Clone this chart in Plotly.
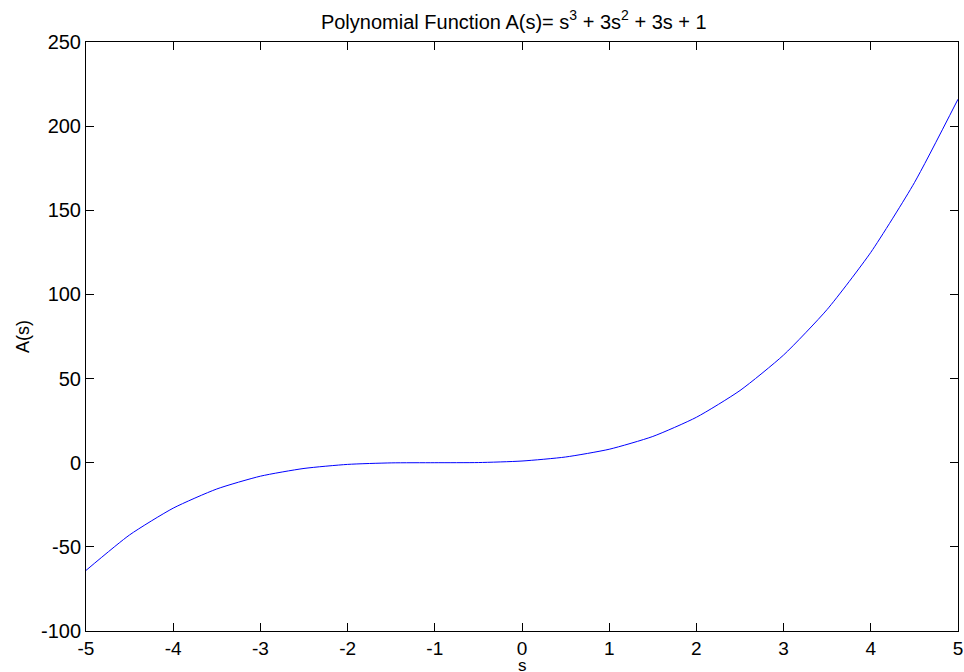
import plotly.graph_objects as go

s_values = [-5, -4.5, -4, -3.5, -3, -2.5, -2, -1.5, -1, -0.5, 0, 0.5, 1, 1.5, 2, 2.5, 3, 3.5, 4, 4.5, 5]
a_values = [-64, -42.9, -27, -15.6, -8, -3.4, -1, -0.1, 0, 0.1, 1, 3.4, 8, 15.6, 27, 42.9, 64, 91.1, 125, 166.4, 216]
x_ticks = [-5, -4, -3, -2, -1, 0, 1, 2, 3, 4, 5]
y_ticks = [-100, -50, 0, 50, 100, 150, 200, 250]

font_family = "Liberation Sans, Arial, sans-serif"
fsize = 20

fig = go.Figure()
fig.add_trace(go.Scatter(x=s_values, y=a_values, mode="lines",
                         line=dict(color="#0000ff", width=1, shape="spline", smoothing=0.6),
                         showlegend=False))

axis_common = dict(showline=True, linecolor="black", linewidth=1, mirror="ticks",
                   ticks="inside", ticklen=8, tickcolor="black", showgrid=False,
                   zeroline=False, automargin=False)

fig.update_layout(
    width=964, height=672,
    margin=dict(l=86, r=6, t=42, b=41),
    paper_bgcolor="white", plot_bgcolor="white",
    title=dict(text="Polynomial Function A(s)= s<sup>3</sup> + 3s<sup>2</sup> + 3s + 1",
               x=0.533, xanchor="center", y=0.968, yanchor="middle",
               font=dict(family=font_family, size=fsize, color="black")),
    xaxis=dict(range=[-5, 5], tickvals=x_ticks, ticktext=[str(t) for t in x_ticks],
               tickfont=dict(family=font_family, size=19, color="black"),
               **axis_common),
    yaxis=dict(range=[-100, 250], tickvals=y_ticks, ticktext=[str(t) for t in y_ticks],
               tickfont=dict(family=font_family, size=fsize, color="black"),
               title=dict(text="A(s)", standoff=6, font=dict(family=font_family, size=18, color="black")),
               **axis_common),
    annotations=[dict(text="s", xref="paper", yref="paper", x=0.5, y=-0.0696,
                      xanchor="center", yanchor="bottom", showarrow=False, yshift=-5,
                      font=dict(family=font_family, size=17, color="black"))],
)

fig.write_html("out.html")
